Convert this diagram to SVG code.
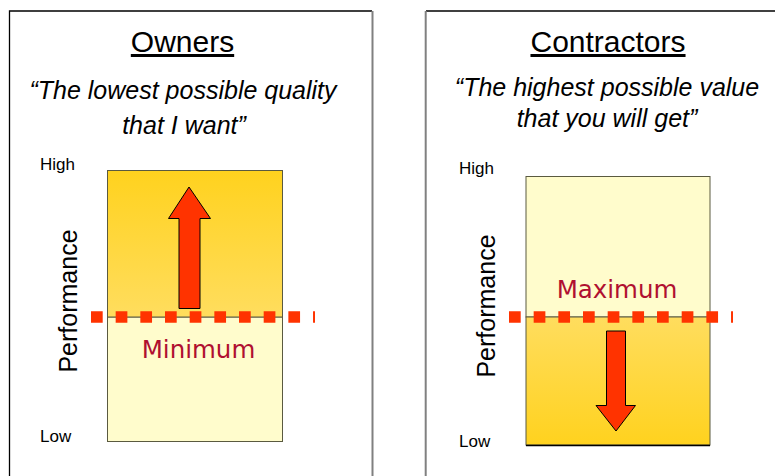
<svg xmlns="http://www.w3.org/2000/svg" width="775" height="476" viewBox="0 0 775 476">
<defs>
<linearGradient id="gUp" x1="0" y1="0" x2="0" y2="1">
<stop offset="0" stop-color="#FFD21E"/>
<stop offset="1" stop-color="#FFDD5E"/>
</linearGradient>
<linearGradient id="gDown" x1="0" y1="0" x2="0" y2="1">
<stop offset="0" stop-color="#FFDD5E"/>
<stop offset="1" stop-color="#FFD21E"/>
</linearGradient>
<style>
.title{font-family:"Liberation Sans",Arial,sans-serif;font-size:30px;fill:#000;text-anchor:middle;text-decoration:underline}
.quote{font-family:"Liberation Sans",Arial,sans-serif;font-size:25px;font-style:italic;fill:#000;text-anchor:middle}
.axis{font-family:"Liberation Sans",Arial,sans-serif;font-size:17px;fill:#000}
.perf{font-family:"Liberation Sans",Arial,sans-serif;font-size:25px;fill:#000;text-anchor:middle}
.lbl{font-family:"DejaVu Sans",Verdana,sans-serif;font-size:24.5px;fill:#B01030;text-anchor:middle}
.light{fill:#FFFCCC;stroke:#5A5A40;stroke-width:1}
.box{stroke:#5A5A40;stroke-width:1}
.arrow{fill:#FF3300;stroke:#000;stroke-width:1}
.dots{stroke:#FF3300;stroke-width:11.7;stroke-dasharray:11.7 12.97;fill:none}
.edgeDark{stroke:#000;stroke-width:1.3;fill:none}
.edgeGray{stroke:#808080;stroke-width:2;fill:none}
</style>
</defs>
<rect width="775" height="476" fill="#fff"/>

<g id="owners-panel">
<path class="edgeDark" d="M9.5,476 V11 H372"/>
<path class="edgeGray" d="M372.5,11 V476"/>
<text class="title" x="182.5" y="52">Owners</text>
<text class="quote" x="183" y="99">“The lowest possible quality</text>
<text class="quote" x="184" y="134">that I want”</text>
<text class="axis" x="40" y="170">High</text>
<text class="axis" x="40" y="442">Low</text>
<text class="perf" transform="translate(77,301) rotate(-90)">Performance</text>
</g>

<g id="owners-chart">
<rect class="light" x="107.5" y="317" width="175" height="124.5"/>
<rect class="box" x="107.5" y="170.5" width="175" height="146.5" fill="url(#gUp)"/>
<text class="lbl" x="198.5" y="358">Minimum</text>
<polygon class="arrow" points="189,187 210.5,218.5 200,218.5 200,308.5 179,308.5 179,218.5 168.5,218.5"/>
</g>

<g id="contractors-panel">
<path class="edgeDark" d="M426,11 H775"/>
<path class="edgeGray" d="M425.7,11 V476"/>
<text class="title" x="608" y="52">Contractors</text>
<text class="quote" x="607" y="96">“The highest possible value</text>
<text class="quote" x="607" y="127">that you will get”</text>
<text class="axis" x="459" y="174">High</text>
<text class="axis" x="459" y="447">Low</text>
<text class="perf" transform="translate(495,306) rotate(-90)">Performance</text>
</g>

<g id="contractors-chart">
<rect class="light" x="526" y="176.5" width="184" height="140.5"/>
<rect class="box" x="526" y="317" width="184" height="128" fill="url(#gDown)"/>
<line x1="526" y1="445.5" x2="710" y2="445.5" stroke="#000" stroke-width="1.5"/>
<text class="lbl" x="617" y="298">Maximum</text>
<polygon class="arrow" points="606.5,331 625.5,331 625.5,405.5 635.5,405.5 616,431 596,405.5 606.5,405.5"/>
</g>

<g id="connectors">
<line class="dots" x1="91" y1="317" x2="315" y2="317"/>
<line class="dots" x1="509" y1="317" x2="733" y2="317"/>
</g>
</svg>
